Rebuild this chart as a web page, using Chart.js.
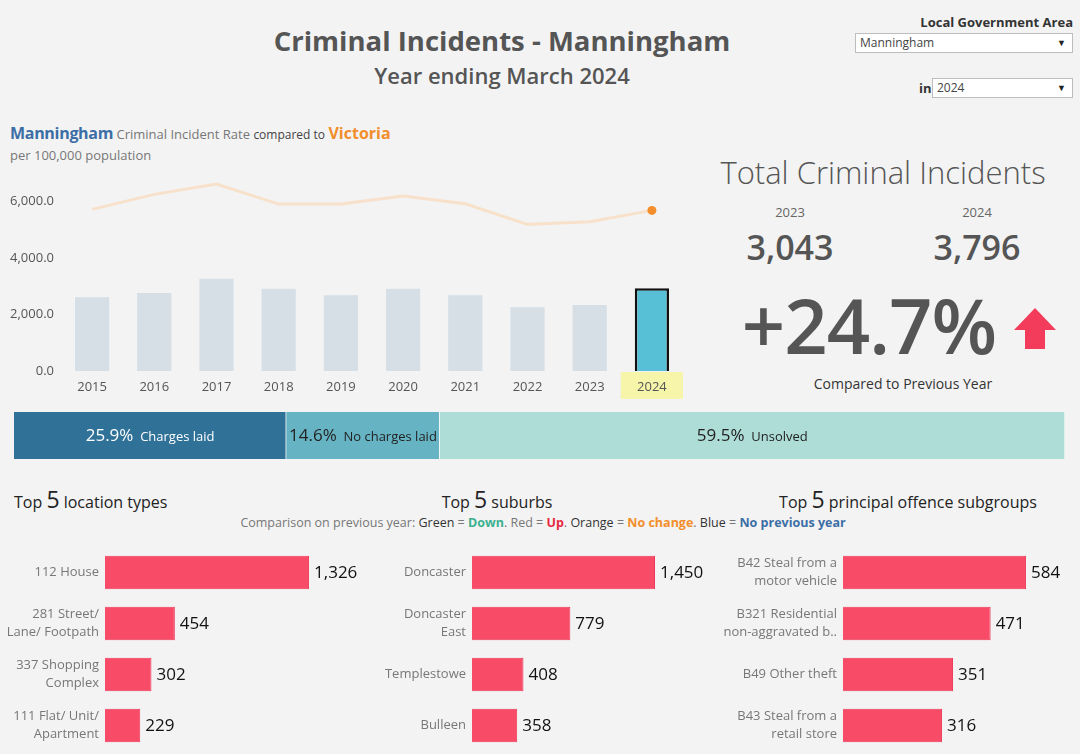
<!DOCTYPE html>
<html>
<head>
<meta charset="utf-8">
<title>Criminal Incidents - Manningham</title>
<script src="https://cdn.jsdelivr.net/npm/chart.js@4.4.0/dist/chart.umd.min.js"></script>
<style>
body { margin:0; width:1080px; height:754px; background:#f3f3f3; font-family:"Open Sans", sans-serif; color:#555; position:relative; overflow:hidden; }
.abs { position:absolute; white-space:nowrap; }
.sel { position:absolute; background:#fff; border:1px solid #bdbdbd; font-size:12px; color:#444; line-height:18px; padding-left:4px; box-sizing:border-box; height:20px; }
.sel:after { content:"\25BC"; position:absolute; right:6px; top:0; font-size:9px; color:#222; }
.big5 { font-size:23px; }
canvas { position:absolute; }
</style>
</head>
<body>
<div class="abs" style="left:0;width:1004px;top:22px;text-align:center;font-size:27.5px;font-weight:700;color:#555;">Criminal Incidents - Manningham</div>
<div class="abs" style="left:0;width:1004px;top:60px;text-align:center;font-size:22px;font-weight:600;color:#555;">Year ending March 2024</div>

<div class="abs" style="right:7px;top:13px;font-size:13px;font-weight:700;color:#333;">Local Government Area</div>
<div class="sel" style="left:855px;top:33px;width:218px;">Manningham</div>
<div class="abs" style="left:919px;top:79px;font-size:13px;font-weight:700;color:#333;">in</div>
<div class="sel" style="left:932px;top:78px;width:141px;">2024</div>

<div class="abs" style="left:10px;top:122px;font-size:13px;color:#777;">
  <span style="font-size:16px;font-weight:700;color:#3c6ea6;letter-spacing:-0.3px;">Manningham</span> Criminal Incident Rate <span style="font-size:12px;color:#444;">compared to</span> <span style="font-size:16px;font-weight:700;color:#f28e2b;">Victoria</span>
</div>
<div class="abs" style="left:10px;top:146px;font-size:13px;color:#777;">per 100,000 population</div>

<div class="abs" style="left:700px;width:366px;top:151px;text-align:center;font-size:31px;font-weight:300;color:#555;">Total Criminal Incidents</div>
<div class="abs" id="prevYear" style="left:740px;width:100px;top:203px;text-align:center;font-size:13px;color:#666;"></div>
<div class="abs" id="curYear" style="left:927px;width:100px;top:203px;text-align:center;font-size:13px;color:#666;"></div>
<div class="abs" id="prevTotal" style="left:720px;width:140px;top:224px;text-align:center;font-size:34px;font-weight:600;color:#555;"></div>
<div class="abs" id="curTotal" style="left:907px;width:140px;top:224px;text-align:center;font-size:34px;font-weight:600;color:#555;"></div>
<div class="abs" id="change" style="left:729px;width:280px;top:273px;text-align:center;font-size:76px;font-weight:600;color:#555;letter-spacing:-1px;"></div>
<svg class="abs" style="left:1012px;top:306px;" width="46" height="46">
  <polygon points="2,24 23,2 44,24 33,24 33,43 13,43 13,24" fill="#f33c5b"/>
</svg>
<div class="abs" style="left:753px;width:300px;top:374px;text-align:center;font-size:14px;color:#333;">Compared to Previous Year</div>

<div class="abs" style="left:14px;top:483px;font-size:16px;color:#222;">Top <span class="big5">5</span> location types</div>
<div class="abs" style="left:380px;width:234px;top:483px;text-align:center;font-size:16px;color:#222;">Top <span class="big5">5</span> suburbs</div>
<div class="abs" style="left:740px;width:336px;top:483px;text-align:center;font-size:16px;color:#222;">Top <span class="big5">5</span> principal offence subgroups</div>
<div class="abs" style="left:0;width:1086px;top:514px;text-align:center;font-size:12.5px;color:#777;">Comparison on previous year: <span style="color:#333">Green</span> = <b style="color:#3bb08f">Down</b>. Red = <b style="color:#e8283e">Up</b>. <span style="color:#333">Orange</span> = <b style="color:#f28e2b">No change</b>. <span style="color:#333">Blue</span> = <b style="color:#3c6ea6">No previous year</b></div>

<canvas id="rateChart" style="left:0;top:168px;" width="690" height="234"></canvas>
<canvas id="outcomeChart" style="left:14px;top:412px;" width="1051" height="47"></canvas>
<canvas id="locationChart" style="left:0;top:547px;" width="370" height="204"></canvas>
<canvas id="suburbChart" style="left:370px;top:547px;" width="360" height="204"></canvas>
<canvas id="offenceChart" style="left:720px;top:547px;" width="360" height="204"></canvas>

<script>
// values
const years = ['2015', '2016', '2017', '2018', '2019', '2020', '2021', '2022', '2023', '2024'];
const lgaRate = [2604, 2756, 3261, 2908, 2675, 2908, 2675, 2251, 2332, 2922];
const vicRate = [5714, 6244, 6608, 5901, 5901, 6184, 5912, 5184, 5276, 5678];
const rateTicks = [0, 2000, 4000, 6000];

const totalYears = ['2023', '2024'];
const totalIncidents = [3043, 3796];

const outcomeLabels = ['Charges laid', 'No charges laid', 'Unsolved'];
const outcomeShares = [25.9, 14.6, 59.5];
const outcomeColors = ['#2f7197', '#66b4c3', '#aedcd6'];
const outcomeText = ['#ffffff', '#222222', '#222222'];

const locationLabels = ['112 House', ['281 Street/', 'Lane/ Footpath'], ['337 Shopping', 'Complex'], ['111 Flat/ Unit/', 'Apartment']];
const locationCounts = [1326, 454, 302, 229];
const suburbLabels = ['Doncaster', ['Doncaster', 'East'], 'Templestowe', 'Bulleen'];
const suburbCounts = [1450, 779, 408, 358];
const offenceLabels = [['B42 Steal from a', 'motor vehicle'], ['B321 Residential', 'non-aggravated b..'], 'B49 Other theft', ['B43 Steal from a', 'retail store']];
const offenceCounts = [584, 471, 351, 316];

const FONT = '"Open Sans", sans-serif';
const fmt = n => n.toLocaleString('en-US');

// KPI text
document.getElementById('prevYear').textContent = totalYears[0];
document.getElementById('curYear').textContent = totalYears[1];
document.getElementById('prevTotal').textContent = fmt(totalIncidents[0]);
document.getElementById('curTotal').textContent = fmt(totalIncidents[1]);
const pct = (totalIncidents[1] - totalIncidents[0]) / totalIncidents[0] * 100;
document.getElementById('change').textContent = (pct >= 0 ? '+' : '') + (Math.floor(pct * 10) / 10).toFixed(1) + '%';

// keep the axis from insetting the plot for its end labels
const noEndPadding = s => { s.paddingTop = 0; s.paddingBottom = 0; };

// yellow box behind the selected year
const highlightYear = {
    id: 'highlightYear',
    beforeDraw(chart) {
        const x = chart.scales.x;
        const i = years.length - 1;
        const w = x.getPixelForValue(1) - x.getPixelForValue(0);
        const ctx = chart.ctx;
        ctx.save();
        ctx.fillStyle = '#f6f5aa';
        ctx.fillRect(x.getPixelForValue(i) - w / 2, chart.chartArea.bottom + 1, w, 27);
        ctx.restore();
    }
};

new Chart(document.getElementById('rateChart'), {
    data: {
        labels: years,
        datasets: [{
            type: 'line',
            data: vicRate,
            borderColor: '#f8e1cb',
            borderWidth: 3,
            pointRadius: vicRate.map((v, i) => i === vicRate.length - 1 ? 4.5 : 0),
            pointBackgroundColor: '#f28e2b',
            pointBorderWidth: 0,
            tension: 0
        }, {
            type: 'bar',
            data: lgaRate,
            backgroundColor: lgaRate.map((v, i) => i === lgaRate.length - 1 ? '#57bfd6' : '#d6dfe6'),
            borderColor: '#111',
            borderWidth: lgaRate.map((v, i) => i === lgaRate.length - 1 ? 2.5 : 0),
            barPercentage: 0.55,
            categoryPercentage: 1
        }]
    },
    options: {
        responsive: false,
        animation: false,
        layout: { padding: { top: 5, right: 7 } },
        plugins: { legend: { display: false }, tooltip: { enabled: false } },
        scales: {
            x: {
                grid: { display: false, drawTicks: false },
                border: { display: false },
                ticks: { color: '#555', font: { family: FONT, size: 13 }, padding: 8 },
                afterFit: s => { s.height = 31; }
            },
            y: {
                min: 0, max: 7000,
                grid: { display: false, drawTicks: false },
                border: { display: false },
                afterBuildTicks: s => { s.ticks = rateTicks.map(v => ({ value: v })); },
                ticks: {
                    color: '#555', font: { family: FONT, size: 13 }, padding: 7,
                    callback: v => v.toLocaleString('en-US', { minimumFractionDigits: 1 })
                },
                afterFit: s => { s.width = 61; noEndPadding(s); }
            }
        }
    },
    plugins: [highlightYear]
});

// clearance outcome strip
const segmentLabels = {
    id: 'segmentLabels',
    afterDatasetsDraw(chart) {
        const ctx = chart.ctx;
        ctx.save();
        ctx.textBaseline = 'middle';
        chart.data.datasets.forEach((ds, i) => {
            const el = chart.getDatasetMeta(i).data[0];
            const mid = (el.x + el.base) / 2;
            const a = ds.data[0].toFixed(1) + '%';
            const b = '  ' + outcomeLabels[i];
            ctx.font = '17px ' + FONT;
            const wa = ctx.measureText(a).width;
            ctx.font = '13px ' + FONT;
            const wb = ctx.measureText(b).width;
            let x0 = mid - (wa + wb) / 2;
            if (x0 < el.base + 2) x0 = el.base + 2;
            ctx.fillStyle = outcomeText[i];
            ctx.font = '17px ' + FONT;
            ctx.fillText(a, x0, el.y + 1);
            ctx.font = '13px ' + FONT;
            ctx.fillText(b, x0 + wa, el.y + 2);
        });
        ctx.restore();
    }
};

new Chart(document.getElementById('outcomeChart'), {
    type: 'bar',
    data: {
        labels: [''],
        datasets: outcomeShares.map((v, i) => ({
            data: [v],
            backgroundColor: outcomeColors[i],
            borderColor: 'rgba(255,255,255,0.5)',
            borderWidth: { right: 1 },
            barPercentage: 1,
            categoryPercentage: 1
        }))
    },
    options: {
        indexAxis: 'y',
        responsive: false,
        animation: false,
        layout: { padding: 0 },
        plugins: { legend: { display: false }, tooltip: { enabled: false } },
        scales: {
            x: { stacked: true, min: 0, max: 100, display: false },
            y: { stacked: true, display: false }
        }
    },
    plugins: [segmentLabels]
});

// value labels at the end of the horizontal bars
const barValues = {
    id: 'barValues',
    afterDatasetsDraw(chart) {
        const ctx = chart.ctx;
        ctx.save();
        ctx.font = '17px ' + FONT;
        ctx.fillStyle = '#111';
        ctx.textBaseline = 'middle';
        chart.getDatasetMeta(0).data.forEach((el, i) => {
            ctx.fillText(fmt(chart.data.datasets[0].data[i]), el.x + 5, el.y + 1);
        });
        ctx.restore();
    }
};

function topChart(id, labels, values, axisWidth, xMax) {
    new Chart(document.getElementById(id), {
        type: 'bar',
        data: {
            labels: labels,
            datasets: [{
                data: values,
                backgroundColor: '#f84b67',
                borderColor: '#ee3a58',
                borderWidth: 1,
                barPercentage: 0.66,
                categoryPercentage: 1
            }]
        },
        options: {
            indexAxis: 'y',
            responsive: false,
            animation: false,
            layout: { padding: 0 },
            plugins: { legend: { display: false }, tooltip: { enabled: false } },
            scales: {
                x: { min: 0, max: xMax, display: false },
                y: {
                    grid: { display: false, drawTicks: false },
                    border: { display: false },
                    ticks: { color: '#777', font: { family: FONT, size: 13, lineHeight: 1.35 }, padding: 6 },
                    afterFit: s => { s.width = axisWidth; noEndPadding(s); }
                }
            }
        },
        plugins: [barValues]
    });
}

topChart('locationChart', locationLabels, locationCounts, 105, 1722);
topChart('suburbChart', suburbLabels, suburbCounts, 102, 2044);
topChart('offenceChart', offenceLabels, offenceCounts, 123, 756);
</script>
</body>
</html>
